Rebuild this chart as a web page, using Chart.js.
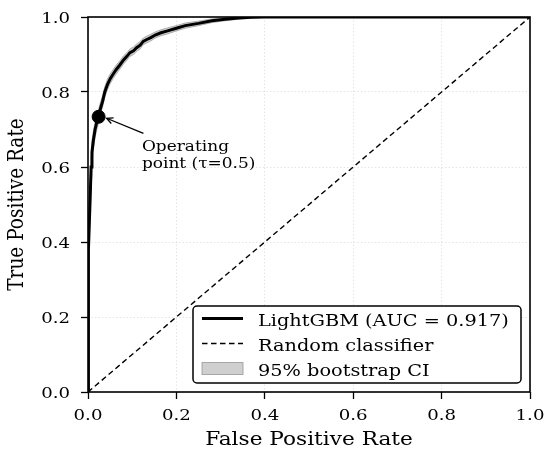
<!DOCTYPE html>
<html>
<head>
<meta charset="utf-8">
<script src="https://cdn.jsdelivr.net/npm/chart.js@4.4.0/dist/chart.umd.min.js"></script>
<style>
  html, body { margin: 0; padding: 0; background: #fff; }
  #wrap { width: 550px; height: 453px; position: relative; }
</style>
</head>
<body>
<div id="wrap"><canvas id="c"></canvas></div>
<script>
// ---- data ----
const fpr = [0, 0, 0.001, 0.002, 0.003, 0.005, 0.007, 0.009, 0.012, 0.016,
  0.020, 0.024, 0.028, 0.033, 0.038, 0.044, 0.050, 0.057, 0.064, 0.072,
  0.080, 0.088, 0.095, 0.103, 0.110, 0.118, 0.125, 0.133, 0.142, 0.152,
  0.165, 0.18, 0.20, 0.22, 0.25, 0.28, 0.31, 0.34, 0.37, 0.40,
  0.45, 0.5, 0.6, 0.7, 0.8, 0.9, 1.0];
const tpr = [0, 0.10, 0.30, 0.38, 0.45, 0.52, 0.60, 0.64, 0.67, 0.70,
  0.72, 0.735, 0.755, 0.775, 0.80, 0.82, 0.835, 0.848, 0.86, 0.872,
  0.885, 0.895, 0.905, 0.91, 0.918, 0.925, 0.935, 0.94, 0.945, 0.952,
  0.958, 0.963, 0.97, 0.977, 0.983, 0.99, 0.994, 0.997, 0.999, 1.0,
  1, 1, 1, 1, 1, 1, 1];
const ciLow = [0, 0.08, 0.27, 0.35, 0.42, 0.49, 0.57, 0.61, 0.645, 0.68,
  0.70, 0.717, 0.738, 0.76, 0.786, 0.806, 0.822, 0.836, 0.848, 0.861,
  0.874, 0.885, 0.895, 0.900, 0.908, 0.915, 0.926, 0.931, 0.936, 0.944,
  0.950, 0.955, 0.963, 0.970, 0.977, 0.985, 0.990, 0.994, 0.997, 0.999,
  1, 1, 1, 1, 1, 1, 1];
const ciHigh = [0, 0.12, 0.33, 0.41, 0.48, 0.55, 0.63, 0.67, 0.695, 0.72,
  0.74, 0.753, 0.772, 0.79, 0.814, 0.834, 0.848, 0.86, 0.872, 0.883,
  0.896, 0.905, 0.915, 0.92, 0.928, 0.935, 0.944, 0.949, 0.954, 0.96,
  0.966, 0.971, 0.977, 0.984, 0.989, 0.995, 0.998, 1, 1, 1,
  1, 1, 1, 1, 1, 1, 1];
const diagX = [0, 1];
const diagY = [0, 1];
const opPoint = [0.024, 0.734];
const opLabel = ['Operating', 'point (\u03C4=0.5)'];
const opTextAt = [0.122, 0.643];
const tickLabels = ['0.0', '0.2', '0.4', '0.6', '0.8', '1.0'];
const seriesLabels = ['LightGBM (AUC = 0.917)', 'Random classifier', '95% bootstrap CI'];
const xTitle = 'False Positive Rate';
const yTitle = 'True Positive Rate';

const FONT = "'DejaVu Serif', serif";
const SX = 1.17; // horizontal stretch of the reference text
const zip = (xs, ys) => xs.map((x, i) => ({x: x, y: ys[i]}));

function drawText(ctx, text, x, y, size, align, rot) {
  ctx.save();
  ctx.translate(x, y);
  ctx.scale(SX, 1);
  if (rot) ctx.rotate(rot);
  ctx.font = size + 'px ' + FONT;
  ctx.fillStyle = '#000';
  ctx.textAlign = align;
  ctx.textBaseline = 'alphabetic';
  ctx.fillText(text, 0, 0);
  ctx.restore();
}

// ---- plugins ----
const framePlugin = {
  id: 'frame',
  afterDraw(chart) {
    const {ctx, chartArea: a, scales: {x, y}} = chart;
    ctx.save();
    ctx.strokeStyle = '#000';
    ctx.lineWidth = 1.6;
    ctx.strokeRect(a.left, a.top, a.right - a.left, a.bottom - a.top);
    ctx.restore();
    // tick labels
    x.ticks.forEach((t, i) => {
      drawText(ctx, tickLabels[i], x.getPixelForValue(t.value), a.bottom + 28, 15.5, 'center');
    });
    y.ticks.forEach((t, i) => {
      drawText(ctx, tickLabels[i], a.left - 18, y.getPixelForValue(t.value) + 6, 15.5, 'right');
    });
    // axis titles
    drawText(ctx, xTitle, (a.left + a.right) / 2, 445, 18.5, 'center');
    drawText(ctx, yTitle, 23, (a.top + a.bottom) / 2, 18.5, 'center', -Math.PI / 2);
  }
};

const annotPlugin = {
  id: 'annot',
  afterDatasetsDraw(chart) {
    const {ctx, scales: {x, y}} = chart;
    const px = x.getPixelForValue(opPoint[0]);
    const py = y.getPixelForValue(opPoint[1]);
    const tx = x.getPixelForValue(opTextAt[0]);
    const ty = y.getPixelForValue(opTextAt[1]);
    ctx.save();
    const sx = tx + 1.5, sy = ty - 17.5;
    const ex = px + 8, ey = py + 1.5;
    ctx.strokeStyle = '#000';
    ctx.lineWidth = 1.3;
    ctx.beginPath();
    ctx.moveTo(sx, sy);
    ctx.lineTo(ex, ey);
    ctx.stroke();
    const ang = Math.atan2(ey - sy, ex - sx);
    const hl = 7, hw = 0.45;
    ctx.beginPath();
    ctx.moveTo(ex - hl * Math.cos(ang - hw), ey - hl * Math.sin(ang - hw));
    ctx.lineTo(ex, ey);
    ctx.lineTo(ex - hl * Math.cos(ang + hw), ey - hl * Math.sin(ang + hw));
    ctx.stroke();
    ctx.restore();
    drawText(ctx, opLabel[0], tx, ty, 14.5, 'left');
    drawText(ctx, opLabel[1], tx, ty + 17.4, 14.5, 'left');
  }
};

const legendPlugin = {
  id: 'customLegend',
  afterDraw(chart) {
    const {ctx} = chart;
    const bx = 193, by = 306, bw = 328, bh = 77, r = 4;
    ctx.save();
    ctx.fillStyle = 'rgba(255,255,255,0.9)';
    ctx.strokeStyle = '#000';
    ctx.lineWidth = 1.5;
    ctx.beginPath();
    ctx.roundRect(bx, by, bw, bh, r);
    ctx.fill();
    ctx.stroke();
    const rows = [318.5, 343.5, 368.5];
    const lx0 = 202, lx1 = 243;
    ctx.strokeStyle = '#000';
    ctx.lineWidth = 3;
    ctx.beginPath(); ctx.moveTo(lx0, rows[0]); ctx.lineTo(lx1, rows[0]); ctx.stroke();
    ctx.lineWidth = 1.4;
    ctx.setLineDash([5.5, 3.5]);
    ctx.beginPath(); ctx.moveTo(lx0, rows[1]); ctx.lineTo(lx1, rows[1]); ctx.stroke();
    ctx.setLineDash([]);
    ctx.fillStyle = 'rgba(160,160,160,0.5)';
    ctx.strokeStyle = 'rgba(150,150,150,0.8)';
    ctx.lineWidth = 1;
    ctx.fillRect(lx0, rows[2] - 6, lx1 - lx0, 12);
    ctx.strokeRect(lx0, rows[2] - 6, lx1 - lx0, 12);
    ctx.restore();
    seriesLabels.forEach((t, i) => drawText(ctx, t, 258, rows[i] + 7, 16.5, 'left'));
  }
};

// ---- chart ----
const bandColor = 'rgba(160,160,160,0.5)';
const cfg = {
  type: 'scatter',
  data: {
    datasets: [
      { label: 'ci-high', data: zip(fpr, ciHigh), showLine: true, borderColor: 'rgba(150,150,150,0.7)',
        borderWidth: 1, pointRadius: 0, fill: '+1', backgroundColor: bandColor, order: 4 },
      { label: 'ci-low', data: zip(fpr, ciLow), showLine: true, borderColor: 'rgba(150,150,150,0.7)',
        borderWidth: 1, pointRadius: 0, fill: false, order: 3 },
      { label: seriesLabels[0], data: zip(fpr, tpr), showLine: true, borderColor: '#000',
        borderWidth: 3, pointRadius: 0, fill: false, order: 1 },
      { label: seriesLabels[1], data: zip(diagX, diagY), showLine: true, borderColor: '#000',
        borderWidth: 1.4, borderDash: [5.5, 3.5], pointRadius: 0, fill: false, order: 2 },
      { label: 'op', data: [{x: opPoint[0], y: opPoint[1]}], showLine: false,
        pointRadius: 6.5, pointBackgroundColor: '#000', pointBorderColor: '#000', order: 0 }
    ]
  },
  options: {
    responsive: true,
    maintainAspectRatio: false,
    animation: false,
    layout: { padding: { top: 17, right: 20, left: 0, bottom: 0 } },
    plugins: { legend: { display: false }, tooltip: { enabled: false } },
    scales: {
      x: {
        type: 'linear', min: 0, max: 1,
        afterFit(s) { s.height = 61; },
        ticks: { stepSize: 0.2, display: false },
        grid: { color: 'rgba(0,0,0,0.13)', lineWidth: 0.8, tickColor: '#000', tickWidth: 1.3,
          tickLength: 7, tickBorderDash: [] },
        border: { display: false, dash: [1.5, 2] },
        title: { display: false }
      },
      y: {
        type: 'linear', min: 0, max: 1,
        afterFit(s) { s.width = 88; },
        ticks: { stepSize: 0.2, display: false },
        grid: { color: 'rgba(0,0,0,0.13)', lineWidth: 0.8, tickColor: '#000', tickWidth: 1.3,
          tickLength: 7, tickBorderDash: [] },
        border: { display: false, dash: [1.5, 2] },
        title: { display: false }
      }
    }
  },
  plugins: [annotPlugin, legendPlugin, framePlugin]
};
new Chart(document.getElementById('c'), cfg);
</script>
</body>
</html>
